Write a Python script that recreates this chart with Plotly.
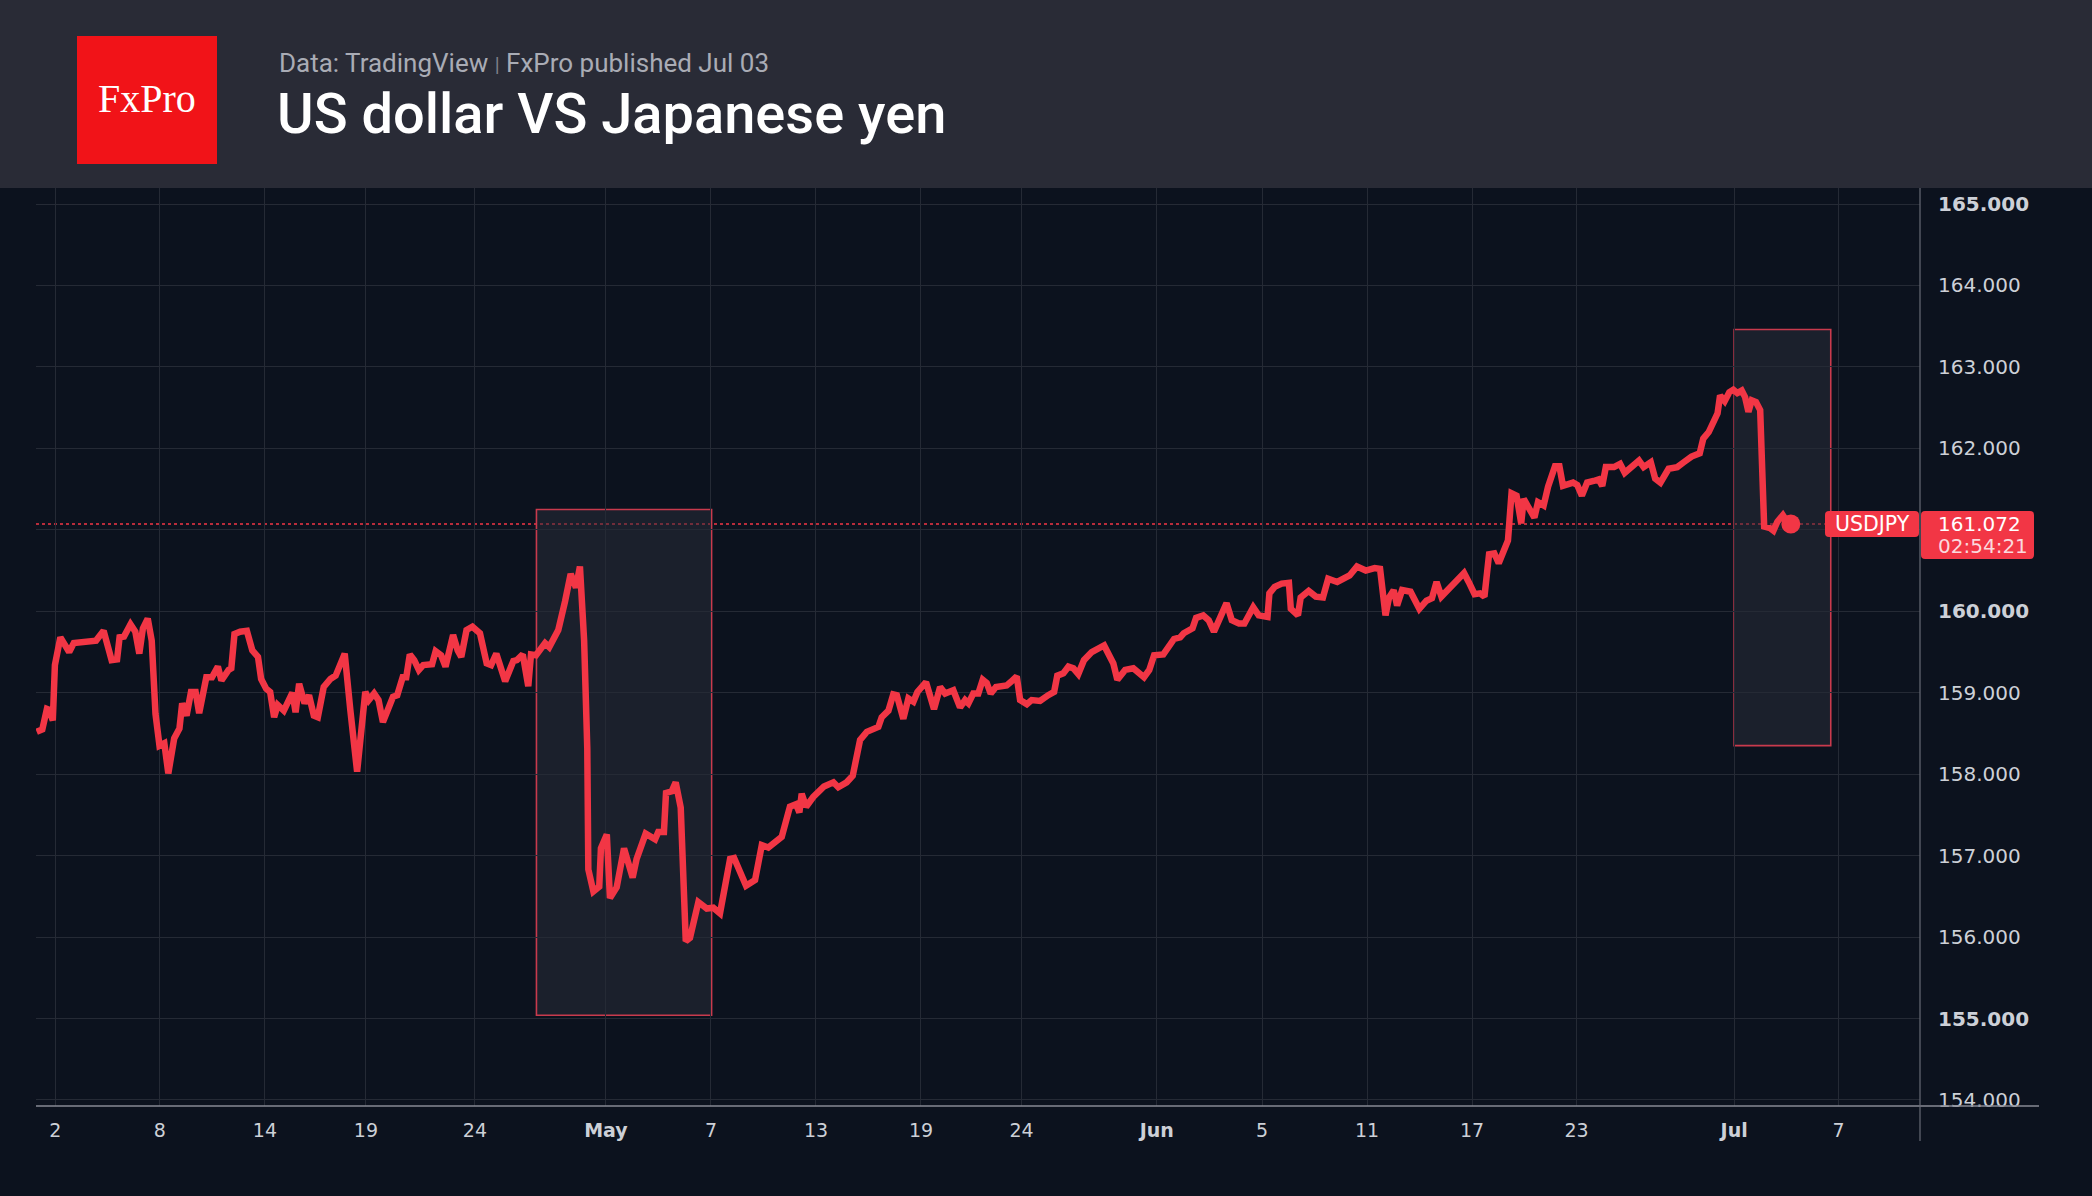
import plotly.graph_objects as go

# ---------------- data (x in trading days from left edge of the chart) ----------------
days = [
    0.03, 0.30, 0.52, 0.62, 0.80, 0.90, 1.16, 1.58, 1.80, 2.11, 2.86, 3.22, 3.38, 3.60, 3.86, 3.98,
    4.19, 4.50, 4.73, 4.92, 5.09, 5.32, 5.51, 5.69, 5.88, 6.11, 6.30, 6.58, 6.83, 6.96, 7.17, 7.38,
    7.60, 7.77, 8.11, 8.38, 8.66, 8.83, 9.17, 9.30, 9.45, 9.72, 10.04, 10.30, 10.57, 10.72, 10.96,
    11.15, 11.34, 11.51, 11.80, 12.21, 12.36, 12.53, 12.79, 13.00, 13.23, 13.42, 13.70, 14.02, 14.27,
    14.70, 14.97, 15.29, 15.68, 15.85, 16.10, 16.31, 16.52, 16.78, 17.00, 17.20, 17.46, 17.63, 17.80,
    18.01, 18.23, 18.44, 18.86, 19.03, 19.29, 19.50, 19.86, 20.08, 20.25, 20.50, 20.78, 21.14, 21.46,
    21.67, 21.92,
    22.34, 22.73, 22.90, 23.18, 23.44, 23.57, 23.81, 24.24, 24.44, 24.87, 25.19, 25.46, 25.71, 25.90,
    26.10, 26.25, 26.30, 26.54, 26.82, 26.90, 27.18, 27.33, 27.65, 28.00, 28.41, 28.60, 29.03, 29.48,
    29.63, 29.90, 30.00, 30.27, 30.46, 30.70, 30.94, 31.14,
    31.54, 31.94, 32.25, 32.57, 33.05, 33.24, 33.81, 34.24, 34.56, 34.87, 35.51, 35.90, 36.19, 36.35,
    36.46, 36.67, 37.01, 37.52, 37.97, 38.20, 38.60, 38.89, 39.24, 39.56, 40.11, 40.27, 40.59, 40.82,
    40.99, 41.30, 41.54, 41.78, 41.97, 42.38, 42.76, 43.05, 43.29, 43.68, 44.00, 44.24, 44.40, 44.63,
    44.87, 45.08, 45.27, 45.46, 45.71, 46.22, 46.41, 46.70, 46.86, 47.18, 47.41, 47.81, 48.20, 48.48,
    48.63, 48.92, 49.16, 49.40, 49.63, 49.90, 50.27, 50.86, 51.30, 51.49, 51.86, 52.25, 52.76, 53.01,
    53.24, 53.68, 54.19, 54.48, 54.65, 55.07, 55.24,
    55.58, 55.84, 56.09, 56.69, 56.94, 57.28, 57.54, 57.96, 58.22, 58.64, 58.73, 58.98, 59.32, 59.66,
    59.75, 60.09, 60.22, 60.60, 60.94, 61.28, 61.53, 61.96, 62.55, 62.90, 63.32, 63.74, 64.00, 64.26,
    64.43, 64.65, 64.81, 65.05, 65.45, 65.87, 66.21, 66.47, 66.69, 66.92, 67.27, 67.49, 68.00, 68.22,
    68.50, 68.76, 68.97, 69.19, 69.44, 69.65, 70.09, 70.26, 70.50, 70.72, 70.84, 71.06, 71.35, 71.52,
    71.79, 72.00, 72.33, 72.54, 72.71, 73.19, 73.39, 73.61, 73.86, 74.17, 74.41, 74.58, 74.75, 75.14,
    75.43, 75.65, 76.04, 76.33, 76.55, 76.89, 77.10, 77.35, 77.74, 78.15, 78.46, 78.83, 79.22, 79.39,
    79.65, 79.90, 80.07, 80.19, 80.41, 80.63,
    80.82, 81.01, 81.22, 81.38, 81.54, 81.70, 81.90, 82.10, 82.29, 82.57, 82.73, 82.92, 83.18, 83.33,
    83.56,
]
usdjpy = [
    158.52, 158.55, 158.80, 158.79, 158.66, 159.34, 159.68, 159.50, 159.61, 159.62, 159.64, 159.76,
    159.62, 159.40, 159.41, 159.68, 159.69, 159.84, 159.75, 159.48, 159.79, 159.91, 159.64, 158.74,
    158.35, 158.38, 158.01, 158.44, 158.56, 158.87, 158.72, 159.01, 159.01, 158.75, 159.19, 159.19,
    159.32, 159.15, 159.28, 159.30, 159.72, 159.75, 159.76, 159.52, 159.44, 159.17, 159.05, 159.01,
    158.70, 158.85, 158.78, 159.00, 158.76, 159.11, 158.87, 158.97, 158.72, 158.70, 159.07, 159.17,
    159.21, 159.48, 158.78, 158.03, 159.01, 158.91, 158.99, 158.91, 158.64, 158.82, 158.95, 158.97,
    159.19, 159.19, 159.47, 159.40, 159.28, 159.34, 159.35, 159.51, 159.46, 159.32, 159.71, 159.52,
    159.44, 159.77, 159.81, 159.73, 159.36, 159.34, 159.48,
    159.14, 159.39, 159.40, 159.47, 159.08, 159.47, 159.46, 159.61, 159.56, 159.77, 160.12, 160.46,
    160.29, 160.55, 159.64, 158.32, 156.83, 156.56, 156.62, 157.09, 157.26, 156.48, 156.61, 157.09,
    156.73, 156.96, 157.27, 157.20, 157.29, 157.29, 157.77, 157.79, 157.90, 157.59, 155.95, 155.99,
    156.43, 156.35, 156.36, 156.29, 156.96, 156.97, 156.63, 156.70, 157.13, 157.10, 157.23, 157.60,
    157.63, 157.53, 157.76, 157.60, 157.72, 157.85, 157.90, 157.84, 157.90, 157.98, 158.42, 158.52,
    158.58, 158.70, 158.78, 158.98, 158.97, 158.68, 158.93, 158.89, 159.01, 159.13, 158.80, 159.07,
    158.99, 159.03, 158.82, 158.91, 158.87, 158.99, 158.99, 159.16, 159.12, 158.99, 159.07, 159.09,
    159.13, 159.20, 158.91, 158.86, 158.91, 158.90, 158.97, 159.01, 159.21, 159.24, 159.32, 159.30,
    159.23, 159.40, 159.50, 159.58, 159.36, 159.16, 159.28, 159.30, 159.19, 159.28, 159.46, 159.47,
    159.66, 159.68, 159.73, 159.79, 159.92,
    159.95, 159.89, 159.75, 160.10, 159.89, 159.85, 159.85, 160.05, 159.95, 159.93, 160.22, 160.30,
    160.34, 160.35, 160.03, 159.95, 160.17, 160.25, 160.18, 160.17, 160.40, 160.36, 160.44, 160.55,
    160.50, 160.53, 160.52, 159.95, 160.17, 160.26, 160.07, 160.26, 160.24, 160.03, 160.13, 160.16,
    160.36, 160.18, 160.28, 160.33, 160.47, 160.36, 160.21, 160.22, 160.18, 160.70, 160.71, 160.59,
    160.87, 161.45, 161.42, 161.08, 161.38, 161.28, 161.15, 161.34, 161.30, 161.53, 161.78, 161.78,
    161.54, 161.58, 161.55, 161.42, 161.58, 161.60, 161.62, 161.54, 161.77, 161.77, 161.81, 161.70,
    161.78, 161.85, 161.77, 161.83, 161.63, 161.58, 161.75, 161.77, 161.83, 161.90, 161.94, 162.12,
    162.20, 162.35, 162.43, 162.65, 162.58, 162.69,
    162.72, 162.68, 162.71, 162.63, 162.45, 162.59, 162.57, 162.47, 161.04, 161.02, 160.99, 161.10,
    161.18, 161.12, 161.072,
]

x_tick_pos = [0.92, 5.90, 10.90, 15.71, 20.90, 27.14, 32.14, 37.14, 42.14, 46.93,
              53.37, 58.38, 63.38, 68.38, 73.36, 80.86, 85.83]
x_tick_labels = ["2", "8", "14", "19", "24", "May", "7", "13", "19", "24",
                 "Jun", "5", "11", "17", "23", "Jul", "7"]
month_labels = ["May", "Jun", "Jul"]

price_ticks = [154, 155, 156, 157, 158, 159, 160, 161, 162, 163, 164, 165]
bold_prices = [155, 160, 165]
hidden_prices = [161]

# highlight boxes (x in days, y in price)
box_x0 = [23.83, 80.86]
box_x1 = [32.17, 85.46]
box_y0 = [155.04, 158.35]
box_y1 = [161.25, 163.46]

symbol = "USDJPY"
last_price_text = "161.072"
countdown_text = "02:54:21"
subtitle_left = "Data: TradingView"
subtitle_right = "FxPro published Jul 03"
title_text = "US dollar VS Japanese yen"

# ---------------- geometry / style ----------------
W, H = 2092, 1196
PL, PR, PT, PB = 36, 1920, 188, 1106
XMIN, XMAX = 0.0, 89.71
YMIN, YMAX = 153.926, 165.197

RED = "#f23645"
BG = "#0c121e"
HEADER = "#292b36"
GRID = "#252a35"
TXT = "#cdd0d7"


def px_x(px):
    return (px - PL) / (PR - PL)


def px_y(py):
    return (PB - py) / (PB - PT)


def val_y(v):
    return (v - YMIN) / (YMAX - YMIN)


def rounded_rect(x0, x1, y0, y1, r=4):
    rx = r / (PR - PL)
    ry = r / (PB - PT)
    return (f"M{x0+rx},{y0} L{x1-rx},{y0} Q{x1},{y0} {x1},{y0+ry} L{x1},{y1-ry} "
            f"Q{x1},{y1} {x1-rx},{y1} L{x0+rx},{y1} Q{x0},{y1} {x0},{y1-ry} "
            f"L{x0},{y0+ry} Q{x0},{y0} {x0+rx},{y0} Z")


fig = go.Figure()
fig.add_trace(go.Scatter(x=days, y=usdjpy, mode="lines",
                         line=dict(color=RED, width=6.5), hoverinfo="skip", showlegend=False))
fig.add_trace(go.Scatter(x=[days[-1]], y=[usdjpy[-1]], mode="markers",
                         marker=dict(color=RED, size=19), hoverinfo="skip", showlegend=False))

x_ticktext = [f"<b>{t}</b>" if t in month_labels else t for t in x_tick_labels]
y_ticktext = []
for p in price_ticks:
    if p in hidden_prices:
        y_ticktext.append("")
    elif p in bold_prices:
        y_ticktext.append(f"<b>{p:.3f}</b>")
    else:
        y_ticktext.append(f"{p:.3f}")

shapes = []
# header band
shapes.append(dict(type="rect", xref="paper", yref="paper", x0=px_x(0), x1=px_x(W),
                   y0=px_y(PT), y1=px_y(-2), fillcolor=HEADER, line=dict(width=0), layer="above"))
# logo
shapes.append(dict(type="rect", xref="paper", yref="paper", x0=px_x(77), x1=px_x(217),
                   y0=px_y(164), y1=px_y(36), fillcolor="#f11318", line=dict(width=0), layer="above"))
# highlight boxes
for a, b, c, d in zip(box_x0, box_x1, box_y0, box_y1):
    shapes.append(dict(type="rect", xref="x", yref="y", x0=a, x1=b, y0=c, y1=d,
                       fillcolor="rgba(42,46,58,0.5)", line=dict(color="#c93a4d", width=1.6),
                       layer="below"))
# last price dotted line
last = usdjpy[-1]
shapes.append(dict(type="line", xref="paper", yref="y", x0=0, x1=px_x(1825), y0=last, y1=last,
                   line=dict(color=RED, width=1.5, dash="dot"), layer="below"))
# axis lines
shapes.append(dict(type="line", xref="paper", yref="paper", x0=0, x1=px_x(2039), y0=0, y1=0,
                   line=dict(color="#878a94", width=1.6), layer="above"))
shapes.append(dict(type="line", xref="paper", yref="paper", x0=1, x1=1, y0=px_y(1141), y1=1,
                   line=dict(color="#686b76", width=1.2), layer="above"))
# price labels
ly = val_y(last)
h_px = 1 / (PB - PT)
shapes.append(dict(type="path", xref="paper", yref="paper",
                   path=rounded_rect(px_x(1825), px_x(1919), ly - 13 * h_px, ly + 13 * h_px),
                   fillcolor=RED, line=dict(width=0), layer="above"))
shapes.append(dict(type="path", xref="paper", yref="paper",
                   path=rounded_rect(px_x(1921), px_x(2034), ly - 35 * h_px, ly + 13 * h_px),
                   fillcolor=RED, line=dict(width=0), layer="above"))

annotations = [
    dict(text="FxPro", x=px_x(147), y=px_y(99), xref="paper", yref="paper",
         xanchor="center", yanchor="middle", showarrow=False,
         font=dict(family="Liberation Serif", size=40, color="white")),
    dict(text=f"{subtitle_left} <span style='font-size:20px;color:#7d808a'>|</span> {subtitle_right}",
         x=px_x(277), y=px_y(63), xref="paper", yref="paper", xanchor="left", yanchor="middle",
         showarrow=False, font=dict(family="Roboto", size=26, color="#a9acb5")),
    dict(text=title_text, x=px_x(275), y=px_y(114), xref="paper", yref="paper",
         xanchor="left", yanchor="middle", showarrow=False,
         font=dict(family="Roboto", size=56, color="white", weight=500)),
    dict(text=symbol, x=px_x(1872), y=ly, xref="paper", yref="paper", xanchor="center",
         yanchor="middle", showarrow=False,
         font=dict(family="DejaVu Sans", size=20.5, color="white")),
    dict(text=last_price_text, x=px_x(1936), y=ly, xref="paper", yref="paper", xanchor="left",
         yanchor="middle", showarrow=False,
         font=dict(family="DejaVu Sans", size=20, color="white")),
    dict(text=countdown_text, x=px_x(1936), y=ly - 22 * h_px, xref="paper", yref="paper",
         xanchor="left", yanchor="middle", showarrow=False,
         font=dict(family="DejaVu Sans", size=20, color="#fbd9dd")),
]

fig.update_layout(
    width=W, height=H, autosize=False,
    margin=dict(l=PL, r=W - PR, t=PT, b=H - PB, pad=0),
    paper_bgcolor=BG, plot_bgcolor=BG,
    showlegend=False,
    xaxis=dict(range=[XMIN, XMAX], tickmode="array", tickvals=x_tick_pos, ticktext=x_ticktext,
               showgrid=True, gridcolor=GRID, gridwidth=1, zeroline=False, showline=False,
               ticks="", ticklabelstandoff=11,
               tickfont=dict(family="DejaVu Sans", size=19, color=TXT), fixedrange=True),
    yaxis=dict(range=[YMIN, YMAX], side="right", tickmode="array", tickvals=price_ticks,
               ticktext=y_ticktext, showgrid=True, gridcolor=GRID, gridwidth=1, zeroline=False,
               showline=False, ticks="", ticklabelstandoff=17,
               tickfont=dict(family="DejaVu Sans", size=20, color=TXT), fixedrange=True),
    shapes=shapes,
    annotations=annotations,
)

fig.write_html("out.html")
